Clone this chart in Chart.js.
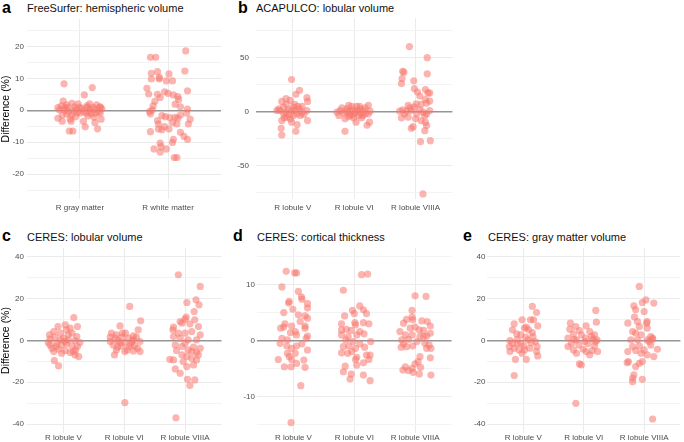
<!DOCTYPE html>
<html><head><meta charset="utf-8">
<script src="https://cdn.jsdelivr.net/npm/chart.js@4.4.1/dist/chart.umd.min.js"></script>
<style>
html,body{margin:0;padding:0;background:#fff;}
#wrap{position:relative;width:684px;height:442px;overflow:hidden;font-family:'Liberation Sans',Arial,Helvetica,sans-serif;background:#fff;}
canvas{position:absolute;}
.lt{position:absolute;font-weight:bold;font-size:16px;line-height:1;color:#000;white-space:nowrap;}
.tt{position:absolute;font-size:11px;line-height:1;color:#111;white-space:nowrap;}
</style></head><body>
<div id="wrap">
  <div class="lt" style="left:2px;top:0px;">a</div>
  <div class="tt" style="left:27px;top:2.7px;">FreeSurfer: hemispheric volume</div>
  <div class="lt" style="left:238px;top:0px;">b</div>
  <div class="tt" style="left:256px;top:2.7px;">ACAPULCO: lobular volume</div>
  <div class="lt" style="left:2px;top:228px;">c</div>
  <div class="tt" style="left:27px;top:232.4px;">CERES: lobular volume</div>
  <div class="lt" style="left:233px;top:228px;">d</div>
  <div class="tt" style="left:257px;top:232.4px;">CERES: cortical thickness</div>
  <div class="lt" style="left:463px;top:228px;">e</div>
  <div class="tt" style="left:488px;top:232.4px;">CERES: gray matter volume</div>
  <canvas id="pa" width="228" height="220" style="left:0px;top:0px;"></canvas>
  <canvas id="pb" width="228" height="220" style="left:228px;top:0px;"></canvas>
  <canvas id="pc" width="228" height="222" style="left:0px;top:220px;"></canvas>
  <canvas id="pd" width="228" height="222" style="left:228px;top:220px;"></canvas>
  <canvas id="pe" width="228" height="222" style="left:456px;top:220px;"></canvas>
</div>
<script>
// ---- categories ----
const catsHemi = ['R gray matter', 'R white matter'];
const catsLob = ['R lobule V', 'R lobule VI', 'R lobule VIIIA'];

// ---- tick values ----
const majorA = [-20, -10, 0, 10, 20];
const minorA = [-25, -15, -5, 5, 15, 25];
const majorB = [-50, 0, 50];
const minorB = [-75, -25, 25, 75];
const majorCE = [-40, -20, 0, 20, 40];
const minorCE = [-30, -10, 10, 30];
const majorD = [-10, 0, 10];
const minorD = [-15, -5, 5, 15];

// ---- series values: [jitter offset, difference %] ----
const aGray = [[-0.18,8.3],[0.14,7.1],[0.05,4.8],[-0.19,2.9],[-0.25,0.8],[-0.21,1.4],[-0.15,1.7],[-0.09,2.2],[-0.06,1.1],[0,0.9],[0.08,1.4],[0.11,0.4],[0.15,0.9],[0.19,1.7],[0.23,0.9],[0.17,0.3],[0.25,0.4],[-0.17,0.1],[-0.13,-0.5],[-0.08,-0.1],[-0.03,-0.7],[0.04,-0.3],[0.07,-0.9],[0.11,-0.5],[0.21,-0.4],[0.23,-0.9],[-0.25,-2.5],[-0.2,-3.4],[-0.15,-1.2],[-0.11,-2.7],[-0.1,-3.4],[0.04,-3.5],[0.17,-3.9],[0.24,-2.8],[0.06,-5.2],[0.2,-5.8],[-0.12,-6.5],[-0.08,-6.5],[-0.2,-1.5],[-0.04,0.3],[0.02,0.5],[-0.09,-1.5],[0.13,-1.1],[0.18,-0.9],[0.08,0.9],[-0.14,0.8],[-0.23,0.1],[-0.02,2.0],[0.11,2.0],[0.23,1.1],[-0.17,0.8],[0,-0.9],[-0.05,-2.0],[0.09,-1.8],[0.16,-2.2]];
const aWhite = [[-0.2,16.6],[-0.14,16.6],[0.2,18.6],[-0.19,11.6],[-0.12,12.1],[0.01,11.4],[0.19,12.3],[-0.19,9.8],[-0.1,10.3],[-0.1,9.8],[-0.02,9.2],[0.05,9.2],[-0.24,6.9],[-0.22,5.1],[0.22,6.1],[-0.04,5.8],[0,5.3],[0.06,4.8],[0.11,4.3],[-0.12,5.0],[-0.09,4.0],[-0.15,2.8],[-0.17,1.4],[0.08,1.9],[0.12,3.4],[0.14,1.1],[0.22,0.4],[-0.21,-0.4],[-0.2,-1.1],[-0.07,-1.7],[-0.03,-2.0],[0.02,-2.3],[0.08,-2.2],[0.11,-2.5],[0.25,-2.8],[-0.12,-3.2],[-0.11,-4.3],[0.05,-3.9],[0.1,-4.3],[0.23,-4.3],[-0.11,-5.9],[-0.2,-6.7],[0.01,-5.9],[-0.07,-6.1],[0.14,-6.9],[0.18,-8.2],[0.22,-9.1],[0.06,-9.1],[0.05,-10.1],[-0.09,-10.3],[-0.08,-11.4],[-0.16,-12.1],[-0.02,-12.1],[-0.09,-13.1],[0.07,-14.8],[0.1,-14.8],[-0.18,0.1],[0.14,-1.5],[0.21,-0.9],[-0.04,-5.1]];

const bV = [[-0.02,29.5],[0.11,19.6],[0.05,15.8],[0.23,12.7],[0.24,9.3],[-0.18,9.3],[-0.11,11.8],[-0.04,10.2],[0.03,6.5],[0.01,4.0],[-0.23,2.5],[-0.15,4.0],[-0.07,1.6],[0.11,2.5],[0.15,-0.6],[0.23,0.9],[0.18,-2.8],[-0.15,-2.2],[-0.1,-5.3],[-0.18,-8.4],[-0.04,-6.8],[0.01,-3.7],[0.07,-2.2],[0.24,-8.4],[0.07,-12.1],[-0.19,-15.5],[0.05,-18.3],[-0.18,-21.7],[-0.21,0.9],[-0.11,-0.6],[-0.02,0.9],[0.08,4.7],[-0.02,-9.9],[0.12,-3.7],[-0.1,6.5],[-0.26,0.9],[-0.05,-2.8],[0.15,4.7],[-0.14,-5.9],[0.04,0.9]];
const bVI = [[-0.15,-18.3],[0.21,-12.7],[0.25,-9.9],[0.23,5.6],[-0.04,4.7],[0.04,4.7],[-0.12,2.5],[0.1,2.5],[-0.23,0.9],[-0.17,-1.6],[-0.07,0.3],[0.02,-0.6],[0.15,0.9],[0.18,-2.2],[0.07,-3.7],[-0.01,-5.9],[-0.09,-4.7],[0.12,-5.9],[-0.25,-3.7],[-0.15,-6.8],[0.03,-9.9],[0.23,-2.2],[-0.02,1.6],[0.11,-1.6],[-0.2,3.4],[-0.08,-2.2],[0.05,0.9],[0.18,3.4],[-0.28,-0.6],[-0.13,0],[-0.05,-3.7],[0.26,0.3],[0.14,-3.7],[0,-2.2],[0.09,4.7],[-0.09,5.6]];
const bVIIIA = [[-0.1,59.9],[0.19,49.7],[0.19,34.8],[-0.21,37.0],[-0.19,36.3],[-0.22,30.4],[-0.23,25.8],[-0.03,28.3],[-0.02,21.1],[0.03,18.0],[0.07,14.3],[0.16,20.2],[0.2,17.1],[0.23,17.1],[0.16,10.9],[0.23,9.6],[0.18,7.8],[0.01,7.1],[-0.02,4.0],[-0.12,5.6],[-0.21,1.6],[-0.26,0.3],[-0.18,-2.2],[-0.07,0.9],[0.07,1.6],[0.12,-0.6],[0.18,-2.2],[0.23,0.9],[-0.23,-5.9],[-0.12,-5.3],[0,-6.8],[0.09,-8.4],[0.16,-9.9],[0.18,-13.0],[-0.04,-14.0],[-0.07,-15.5],[0.15,-17.7],[0.08,-27.9],[0.24,-27.0],[0.12,-76.1],[-0.15,0.3],[0.02,-2.2],[0.15,-3.7],[0.09,6.5],[-0.09,3.4]];

const cV = [[0.17,11.0],[0.23,6.7],[-0.09,6.7],[0.03,7.5],[0.11,5.9],[0.05,5.1],[-0.23,2.7],[-0.16,4.3],[-0.05,3.5],[0.14,3.5],[0.22,1.9],[-0.22,0.8],[-0.14,1.6],[0,1.1],[0.08,0.3],[0.19,0],[-0.25,-1.0],[-0.11,-1.3],[-0.03,-2.1],[0.05,-1.6],[0.14,-2.6],[0.23,-2.9],[-0.19,-3.7],[-0.08,-4.2],[0.03,-4.8],[0.11,-5.8],[0.19,-6.9],[0.25,-7.7],[-0.16,-5.3],[-0.03,-6.1],[-0.15,-9.6],[-0.08,-12.2],[0.16,-5.3],[-0.22,-2.1],[-0.05,0.3],[0.27,-1.0],[0.08,2.7],[-0.12,-2.9],[0.03,-0.5],[0.2,-4.5]];
const cVI = [[0.09,16.3],[0.27,9.4],[-0.07,7.0],[0.23,5.1],[-0.21,3.5],[-0.13,2.7],[0.02,3.5],[0.15,2.2],[-0.15,1.1],[-0.04,1.6],[0.07,1.1],[0.2,1.6],[-0.23,-0.5],[-0.1,0],[0.01,-1.0],[0.13,-0.5],[0.26,-0.5],[-0.18,-2.1],[-0.05,-2.6],[0.08,-2.9],[0.17,-2.6],[-0.13,-4.5],[0.01,-5.3],[0.15,-5.0],[0.26,-5.3],[-0.16,-6.9],[0.01,-29.8],[-0.23,1.6],[-0.03,3.5],[0.11,-1.6],[-0.11,-3.2],[0.22,-3.7],[-0.07,-1.0],[0.05,-4.5],[0.15,0.3]];
const cVIIIA = [[-0.11,31.5],[0.25,25.9],[0.18,19.5],[0.23,17.1],[0.03,18.2],[0.15,13.9],[0.02,11.2],[0,10.2],[0.16,9.9],[-0.08,9.1],[-0.19,6.4],[-0.05,8.3],[0.08,8.0],[0.22,6.7],[-0.2,5.1],[0.11,4.3],[0,3.5],[0.25,2.7],[-0.19,1.9],[-0.08,1.1],[0.05,0.3],[0.19,0.3],[-0.16,-2.1],[-0.05,-2.9],[0.14,-3.2],[0.25,-3.7],[-0.14,-4.8],[0.05,-4.5],[0.19,-5.8],[-0.25,-9.0],[-0.19,-9.3],[-0.05,-6.9],[0.03,-7.7],[0.11,-8.5],[0.22,-6.9],[0.14,-11.7],[0.03,-12.5],[-0.16,-13.6],[-0.08,-15.7],[0.04,-18.6],[0.16,-18.9],[0.08,-21.6],[-0.15,-37.0],[0.11,-5.3],[0,-1.3],[-0.11,3.5],[-0.03,-10.1],[0.19,-9.3]];

const dV = [[-0.12,12.4],[0.02,12.1],[0.05,12.1],[-0.19,9.6],[0.08,8.8],[-0.07,7.0],[-0.08,6.7],[0.13,7.8],[0.14,7.4],[0.23,6.6],[0.23,5.8],[-0.01,5.6],[-0.16,5.0],[0.08,4.6],[0.19,4.4],[0.23,4.0],[-0.21,2.2],[-0.16,2.4],[-0.03,2.6],[0.19,2.6],[0.19,2.2],[-0.14,3.0],[-0.05,1.4],[0.05,1.0],[0.23,0.8],[0.21,0.4],[-0.22,-0.5],[-0.11,-1.0],[-0.03,-1.4],[0.05,-1.0],[0.23,-1.7],[-0.1,-2.3],[-0.07,-2.9],[0.03,-2.3],[-0.25,-3.4],[0.17,-3.5],[-0.03,-3.4],[0.05,-4.1],[-0.15,-4.7],[-0.04,-4.7],[0.19,-4.8],[0.12,-8.1],[-0.04,-14.7],[-0.1,0.1],[0.14,-0.6],[0.03,1.6],[-0.19,0.4],[0.11,3.4]];
const dVI = [[0.12,11.8],[0.22,11.9],[-0.18,9.0],[-0.16,4.4],[-0.03,5.4],[0.09,6.2],[0.15,5.5],[0.2,4.8],[0,4.8],[0.01,3.2],[0.02,2.8],[0.15,3.2],[0.24,3.0],[-0.21,1.9],[-0.13,2.0],[-0.05,1.8],[-0.21,1.0],[-0.1,0.7],[0.04,1.0],[0.16,1.2],[-0.14,0.1],[-0.02,-0.2],[0.09,-0.6],[0.27,-0.2],[-0.18,-1.1],[-0.09,-1.0],[0.02,-1.4],[0.17,-1.2],[-0.21,-2.2],[-0.11,-2.3],[0.04,-3.0],[0.02,-3.4],[0.2,-2.6],[0.26,-2.6],[0.24,-3.4],[0.15,-4.0],[-0.15,-4.6],[0.04,-4.4],[-0.18,-5.6],[-0.05,-6.0],[0.15,-6.2],[-0.07,-6.9],[0.26,-7.2],[0.09,1.6],[-0.04,-2.0],[-0.21,3.0]];
const dVIIIA = [[0,8.0],[0.18,7.9],[-0.05,5.4],[-0.14,3.8],[-0.05,4.2],[-0.19,3.1],[-0.04,3.7],[0.11,3.5],[0.25,2.6],[0.2,3.4],[-0.08,2.2],[0,2.4],[0.07,1.9],[0.14,1.8],[0.25,1.3],[-0.25,1.6],[-0.16,1.0],[-0.05,1.0],[0.08,0.7],[0.19,0.8],[-0.22,0.1],[-0.11,0.2],[0.03,-0.2],[0.16,-0.5],[0.23,-0.8],[-0.23,-1.2],[-0.14,-1.1],[-0.04,-1.0],[0.19,-1.4],[0.26,-1.4],[0.08,-2.9],[0.25,-3.1],[0.05,-3.8],[0,-4.2],[-0.16,-4.7],[-0.05,-5.0],[0.09,-4.8],[-0.2,-5.3],[-0.11,-5.4],[-0.03,-5.7],[0.07,-6.0],[0.26,-6.2],[0.14,0.7],[-0.19,-0.6]];

const eV = [[0.15,16.3],[0.22,13.4],[0.24,7.0],[-0.02,9.9],[0.12,9.9],[0.17,9.9],[-0.15,8.0],[-0.18,5.1],[0.02,5.9],[0.05,6.4],[0.09,5.1],[-0.11,3.2],[-0.04,2.7],[0.15,3.8],[-0.22,0],[-0.1,0.6],[0.04,1.6],[0.2,-0.5],[0.13,-1.0],[-0.23,-2.9],[-0.15,-3.7],[-0.07,-4.5],[0.01,-2.6],[0.11,-3.7],[0.23,-2.9],[-0.22,-5.3],[-0.02,-6.1],[0.22,-5.3],[0.24,-7.4],[-0.13,-9.0],[0.05,-9.0],[-0.15,-16.8],[-0.04,-1.3],[-0.18,-1.3],[0.08,0.3],[0.16,1.9],[-0.1,-1.6],[0.02,-4.5]];
const eVI = [[0.2,14.4],[0.21,8.8],[-0.22,8.3],[-0.13,6.7],[0.04,7.0],[-0.23,5.4],[-0.07,4.8],[0.1,4.3],[-0.17,3.2],[-0.04,2.7],[0.18,2.7],[-0.26,1.1],[-0.12,0.3],[0.03,1.1],[0.15,0.6],[0.22,0.3],[-0.2,-1.3],[-0.08,-2.1],[0.07,-1.6],[0.18,-2.6],[-0.17,-4.5],[-0.01,-4.2],[0.14,-4.8],[0.23,-5.3],[-0.12,-6.1],[0.1,-6.9],[-0.07,-11.2],[-0.04,-11.7],[-0.13,-30.1],[0.02,-0.5],[-0.26,-2.9],[0.04,-5.3],[0.13,1.9],[-0.16,0.6],[0.2,-0.5]];
const eVIIIA = [[-0.08,25.9],[0.03,19.5],[0.16,17.9],[-0.03,18.2],[-0.17,16.6],[-0.14,14.7],[0,13.9],[-0.16,11.2],[0.05,9.1],[0.04,8.3],[-0.27,8.3],[-0.11,9.1],[-0.08,6.7],[0.05,5.9],[-0.19,4.3],[-0.05,2.7],[0.11,1.9],[0.14,1.1],[-0.22,0.3],[-0.11,0.3],[0.05,0.3],[0.14,0.6],[-0.19,-2.9],[-0.08,-2.6],[0.11,-2.1],[0.22,-4.2],[-0.27,-5.3],[-0.14,-4.8],[-0.05,-6.1],[0.05,-6.9],[0.16,-7.7],[-0.28,-10.6],[-0.26,-10.1],[-0.08,-10.9],[-0.14,-12.5],[-0.03,-10.1],[-0.17,-16.5],[-0.19,-19.7],[-0.19,-18.1],[-0.03,-18.6],[0.14,-37.6],[0,-4.5],[0.08,-0.5],[-0.14,3.5]];

const FONT = "'Liberation Sans', Arial, Helvetica, sans-serif";
const POINT = 'rgba(248,118,109,0.55)';

function makePanel(cfg) {
  const all = cfg.major.concat(cfg.minor).sort((a, b) => a - b);
  const datasets = cfg.groups.map((g, gi) => ({
    data: g.map(p => ({ x: gi + 1 + p[0], y: p[1] })),
    backgroundColor: POINT,
    borderWidth: 0,
    pointRadius: 3.6,
    pointHoverRadius: 3.6
  }));
  new Chart(document.getElementById(cfg.id), {
    type: 'scatter',
    data: { datasets },
    options: {
      responsive: false,
      animation: false,
      devicePixelRatio: 1,
      layout: { padding: { left: 0, right: cfg.padR, top: cfg.padT, bottom: 0 } },
      plugins: { legend: { display: false }, tooltip: { enabled: false } },
      scales: {
        x: {
          type: 'linear',
          min: 0.4,
          max: cfg.cats.length + 0.6,
          afterBuildTicks: s => { s.ticks = cfg.cats.map((c, i) => ({ value: i + 1 })); },
          afterFit: s => { s.height = cfg.xH; },
          ticks: {
            callback: v => cfg.cats[Math.round(v) - 1],
            font: { family: FONT, size: 8 },
            color: '#4d4d4d',
            padding: cfg.xPad,
            maxRotation: 0,
            autoSkip: false
          },
          grid: { color: '#ebebeb', lineWidth: 1, drawTicks: false },
          border: { display: false }
        },
        y: {
          min: cfg.min,
          max: cfg.max,
          afterBuildTicks: s => { s.ticks = all.map(v => ({ value: v })); },
          afterFit: s => { s.width = cfg.yW; },
          ticks: {
            callback: v => cfg.major.includes(v) ? String(v) : '',
            font: { family: FONT, size: 8 },
            color: '#4d4d4d',
            padding: cfg.yPad,
            autoSkip: false
          },
          grid: {
            color: c => (c.tick && c.tick.value === 0) ? '#969696' : (c.tick && cfg.major.includes(c.tick.value) ? '#ebebeb' : '#f3f3f3'),
            lineWidth: c => (c.tick && c.tick.value === 0) ? 1.4 : 1,
            drawTicks: false
          },
          border: { display: false },
          title: {
            display: !!cfg.yTitle,
            text: cfg.yTitle || '',
            font: { family: FONT, size: 10.5 },
            color: '#000',
            padding: 0
          }
        }
      }
    }
  });
}

makePanel({ id: 'pa', cats: catsHemi, groups: [aGray, aWhite], min: -27.8, max: 28.6,
  major: majorA, minor: minorA, yTitle: 'Difference (%)', yW: 27, padR: 7, padT: 19, xH: 21, xPad: 4, yPad: 3 });
makePanel({ id: 'pb', cats: catsLob, groups: [bV, bVI, bVIIIA], min: -80.8, max: 86.3,
  major: majorB, minor: minorB, yTitle: '', yW: 28, padR: 3, padT: 18, xH: 21, xPad: 4, yPad: 7 });
makePanel({ id: 'pc', cats: catsLob, groups: [cV, cVI, cVIIIA], min: -44.3, max: 44.3,
  major: majorCE, minor: minorCE, yTitle: 'Difference (%)', yW: 27, padR: 6.5, padT: 28, xH: 9, xPad: 0, yPad: 3 });
makePanel({ id: 'pd', cats: catsLob, groups: [dV, dVI, dVIIIA], min: -16.57, max: 16.57,
  major: majorD, minor: minorD, yTitle: '', yW: 29, padR: 4.4, padT: 28, xH: 9, xPad: 0, yPad: 2 });
makePanel({ id: 'pe', cats: catsLob, groups: [eV, eVI, eVIIIA], min: -44.3, max: 44.3,
  major: majorCE, minor: minorCE, yTitle: '', yW: 31, padR: 0, padT: 28, xH: 9, xPad: 0, yPad: 1.5 });
</script>
</body></html>
